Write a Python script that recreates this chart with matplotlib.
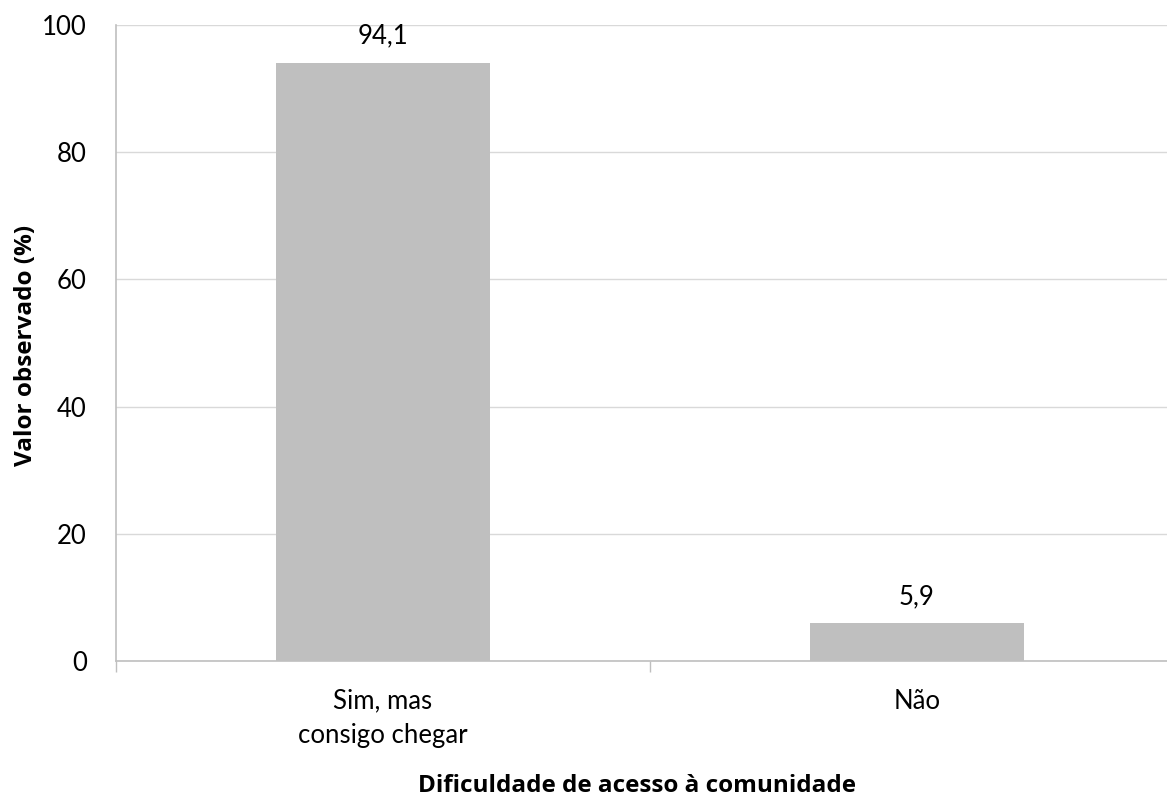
import matplotlib
matplotlib.use("Agg")
import matplotlib.pyplot as plt

categories = ["Sim, mas\nconsigo chegar", "Não"]
values = [94.1, 5.9]
value_labels = ["94,1", "5,9"]
yticks = [0, 20, 40, 60, 80, 100]

plt.rcParams['font.family'] = ['Lato', 'DejaVu Sans']
bold_font = ['Open Sans', 'DejaVu Sans']

fig = plt.figure(figsize=(11.67, 7.98), dpi=100)
W, H = 1167, 798
left, right, top, bottom = 116, 1184, 25, 661
ax = fig.add_axes([left / W, (H - bottom) / H, (right - left) / W, (bottom - top) / H])

x = list(range(len(categories)))
bars = ax.bar(x, values, width=0.4, color="#bfbfbf", zorder=2)
for b, lab in zip(bars, value_labels):
    ax.annotate(lab, (b.get_x() + b.get_width() / 2, b.get_height()),
                xytext=(0, 14), textcoords="offset points",
                ha="center", va="baseline", fontsize=18.5, color="black")

ax.set_xlim(-0.5, len(categories) - 0.5)
ax.set_ylim(0, 100)
ax.set_yticks(yticks)
ax.set_yticklabels([str(t) for t in yticks], fontsize=18.5)
ax.tick_params(axis="y", length=0, pad=21)
ax.yaxis.grid(True, color="#d9d9d9", linewidth=1, zorder=0)
ax.set_axisbelow(True)

ax.set_xticks(x)
ax.set_xticklabels(categories, fontsize=18.5, linespacing=1.45)
ax.tick_params(axis="x", length=0, pad=20)
# category boundary ticks
ax.set_xticks([-0.5, 0.5, 1.5], minor=True)
ax.tick_params(axis="x", which="minor", length=8, color="#bfbfbf", width=1)

for s in ["top", "right"]:
    ax.spines[s].set_visible(False)
for s in ["left", "bottom"]:
    ax.spines[s].set_color("#bfbfbf")
    ax.spines[s].set_linewidth(1.2)

ax.set_ylabel("Valor observado (%)", fontsize=17.5, fontweight="bold",
              family=bold_font, va="center", ha="center")
ax.yaxis.set_label_coords((26 - left) / (right - left), (bottom - 345) / (bottom - top))
ax.set_xlabel("Dificuldade de acesso à comunidade", fontsize=17.5, fontweight="bold",
              family=bold_font, va="baseline", ha="center")
ax.xaxis.set_label_coords((637 - left) / (right - left), -(792 - bottom) / (bottom - top))

fig.savefig("out.png", dpi=100)
